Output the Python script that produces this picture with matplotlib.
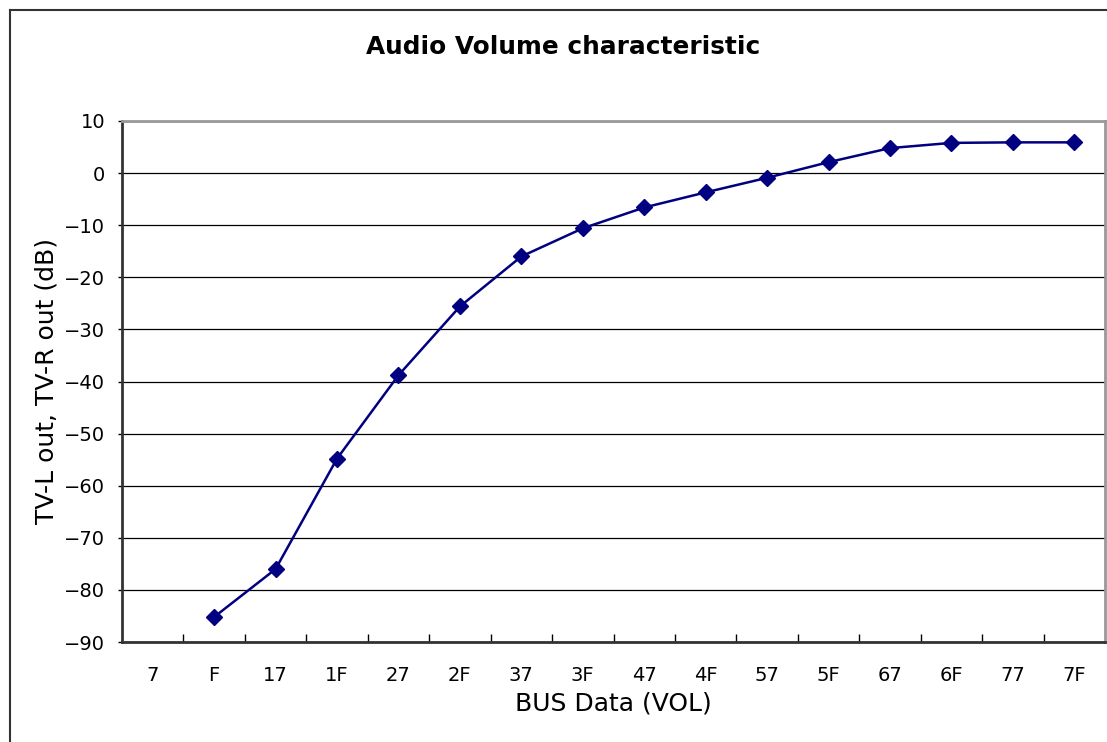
import matplotlib.pyplot as plt
import numpy as np
from matplotlib.lines import Line2D

plt.rcParams['font.family'] = ['DejaVu Sans']

# BUS data codes (hex) on the category axis
codes = ['7', 'F', '17', '1F', '27', '2F', '37', '3F',
         '47', '4F', '57', '5F', '67', '6F', '77', '7F']
# output level in dB, no measurement at code 7
level = [np.nan, -85.2, -76.0, -54.8, -38.8, -25.6, -16.0, -10.6,
         -6.6, -3.7, -0.9, 2.1, 4.8, 5.8, 5.9, 5.9]

fig = plt.figure(figsize=(11.07, 7.42), dpi=100)
ax = fig.add_axes([122 / 1107, 100 / 742, 983 / 1107, 521 / 742])

x = np.arange(len(codes))
ax.plot(x, level, color='#000080', lw=1.8, marker='D', ms=8,
        markerfacecolor='#000080', markeredgecolor='#000080')

ax.set_xlim(-0.5, len(codes) - 0.5)
ax.set_ylim(-90, 10)
ax.set_yticks(np.arange(-90, 11, 10))
ax.yaxis.grid(True, color='black', lw=0.9)
ax.set_axisbelow(True)

ax.set_xticks(x)
ax.set_xticklabels(codes)
ax.set_xticks(np.arange(0.5, len(codes) - 0.5, 1), minor=True)
ax.tick_params(axis='x', which='major', length=0, pad=17, labelsize=14)
ax.tick_params(axis='x', which='minor', direction='in', length=6, width=1)
ax.tick_params(axis='y', length=3, width=1, labelsize=14, pad=9)

for s in ['left', 'bottom']:
    ax.spines[s].set_color('#333333')
    ax.spines[s].set_linewidth(2)
for s in ['top', 'right']:
    ax.spines[s].set_color('#999999')
    ax.spines[s].set_linewidth(2)

ax.set_xlabel('BUS Data (VOL)', fontsize=18, labelpad=5)
ax.set_ylabel('TV-L out, TV-R out (dB)', fontsize=18, labelpad=4)
fig.text(563 / 1107, 1 - 47 / 742, 'Audio Volume characteristic',
         ha='center', va='center', fontsize=17.8, fontweight='bold')

# chart frame
fig.add_artist(Line2D([10 / 1107, 10 / 1107], [0, 1 - 10 / 742],
                      color='#333333', lw=1.5))
fig.add_artist(Line2D([10 / 1107, 1], [1 - 10 / 742, 1 - 10 / 742],
                      color='#333333', lw=1.5))

fig.savefig('out.png', dpi=100)
